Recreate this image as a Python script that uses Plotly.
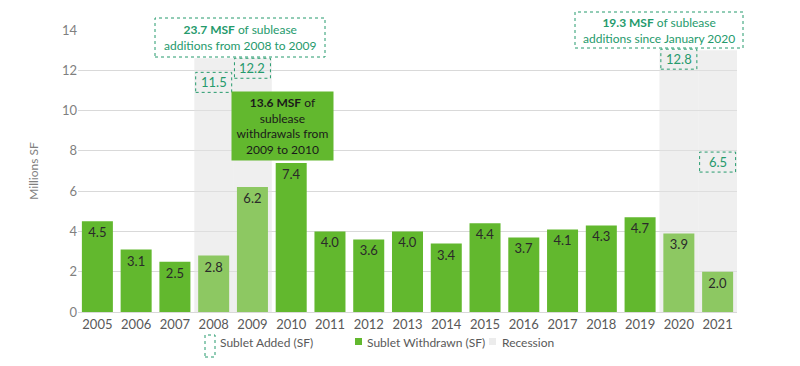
import plotly.graph_objects as go

years = [str(y) for y in range(2005, 2022)]
withdrawn = [4.5, 3.1, 2.5, 2.8, 6.2, 7.4, 4.0, 3.6, 4.0, 3.4, 4.4, 3.7, 4.1, 4.3, 4.7, 3.9, 2.0]
added_years = ["2008", "2009", "2020", "2021"]
added = [11.5, 12.2, 12.8, 6.5]
recession_years = ["2008", "2009", "2020", "2021"]
recession = [12.6, 12.6, 13.0, 13.0]

GREEN = "#62b82e"
LIGHT_GREEN = "#8dc862"
TEAL = "#259a6c"
FONT = "Lato"

bar_colors = [LIGHT_GREEN if y in recession_years else GREEN for y in years]

fig = go.Figure()
fig.add_trace(go.Bar(
    x=recession_years, y=recession, name="Recession", width=1.0,
    marker=dict(color="rgba(225,225,225,0.55)", line=dict(width=0)),
    hoverinfo="skip", showlegend=False,
))
fig.add_trace(go.Bar(
    x=years, y=withdrawn, name="Sublet Withdrawn (SF)", width=0.8,
    marker=dict(color=bar_colors, line=dict(width=0)),
    text=[f"{v:.1f}" for v in withdrawn], textposition="inside",
    insidetextanchor="end", textangle=0,
    textfont=dict(family=FONT, size=13, color="#2a2a2a"),
    showlegend=False,
))
# Sublet Added: shown only as dashed-box data labels
fig.add_trace(go.Bar(
    x=added_years, y=added, name="Sublet Added (SF)", width=0.8,
    marker=dict(color="rgba(0,0,0,0)", line=dict(width=0)),
    hoverinfo="skip", showlegend=False,
))

label_shift = [-2, -2, -5, 19]  # pixel shift of each label box above its value
shapes = []
annotations = []
for yr, v, s in zip(added_years, added, label_shift):
    xi = years.index(yr)
    shapes.append(dict(
        type="rect", xref="x", yref="y", xsizemode="pixel", ysizemode="pixel",
        xanchor=xi, yanchor=v, x0=-18, x1=18, y0=s - 10, y1=s + 10,
        line=dict(color=TEAL, width=1, dash="dot"), fillcolor="rgba(0,0,0,0)",
    ))
    annotations.append(dict(
        x=xi, y=v, xref="x", yref="y", text=f"{v:.1f}", showarrow=False,
        yshift=s, xanchor="center", yanchor="middle",
        font=dict(family=FONT, size=13, color=TEAL),
    ))

def px(x):
    return (x - 78) / 659

def py(y):
    return (312 - y) / 282

# Callout boxes
shapes.append(dict(type="rect", xref="paper", yref="paper",
                   x0=px(155), x1=px(325), y0=py(57), y1=py(18),
                   fillcolor="white",
                   line=dict(color=TEAL, width=1, dash="dot")))
annotations.append(dict(
    x=px(240), y=py(37.5), xref="paper", yref="paper", showarrow=False,
    xanchor="center", yanchor="middle",
    text="<b>23.7 MSF</b> of sublease<br>additions from 2008 to 2009",
    font=dict(family=FONT, size=12, color=TEAL), align="center",
))
shapes.append(dict(type="rect", xref="paper", yref="paper",
                   x0=px(575), x1=px(743), y0=py(48), y1=py(12),
                   fillcolor="white",
                   line=dict(color=TEAL, width=1, dash="dot")))
annotations.append(dict(
    x=px(659), y=py(30), xref="paper", yref="paper", showarrow=False,
    xanchor="center", yanchor="middle",
    text="<b>19.3 MSF</b> of sublease<br>additions since January 2020",
    font=dict(family=FONT, size=12, color=TEAL), align="center",
))
annotations.append(dict(
    x=px(282.5), y=py(126), xref="paper", yref="paper", showarrow=False,
    xanchor="center", yanchor="middle",
    text="<b>13.6 MSF</b> of<br>sublease<br>withdrawals from<br>2009 to 2010",
    font=dict(family=FONT, size=12, color="#1a1a1a"), align="center",
    bgcolor=GREEN, borderpad=4, width=93, height=60,
))

# Manual legend
shapes.append(dict(type="rect", xref="paper", yref="paper",
                   x0=px(205), x1=px(215), y0=py(357), y1=py(335),
                   line=dict(color=TEAL, width=1, dash="dot")))
annotations.append(dict(x=px(218), y=py(342), xref="paper", yref="paper",
                        xanchor="left", yanchor="middle", showarrow=False,
                        text="Sublet Added (SF)",
                        font=dict(family=FONT, size=12, color="#595959")))
shapes.append(dict(type="rect", xref="paper", yref="paper",
                   x0=px(355), x1=px(362), y0=py(345), y1=py(338),
                   line=dict(width=0), fillcolor=GREEN))
annotations.append(dict(x=px(365), y=py(342), xref="paper", yref="paper",
                        xanchor="left", yanchor="middle", showarrow=False,
                        text="Sublet Withdrawn (SF)",
                        font=dict(family=FONT, size=12, color="#595959")))
shapes.append(dict(type="rect", xref="paper", yref="paper",
                   x0=px(489), x1=px(496), y0=py(345), y1=py(338),
                   line=dict(width=0), fillcolor="#ececec"))
annotations.append(dict(x=px(500), y=py(342), xref="paper", yref="paper",
                        xanchor="left", yanchor="middle", showarrow=False,
                        text="Recession",
                        font=dict(family=FONT, size=12, color="#595959")))

fig.update_layout(
    width=800, height=366,
    margin=dict(l=70, r=71, t=22, b=62),
    paper_bgcolor="white", plot_bgcolor="white",
    barmode="overlay", bargap=0.2,
    font=dict(family=FONT, size=12, color="#595959"),
    shapes=shapes, annotations=annotations,
    showlegend=False,
    xaxis=dict(type="category", categoryorder="array", categoryarray=years,
               range=[-0.5, len(years) - 0.5],
               showgrid=False, showline=True, linecolor="#d9d9d9",
               ticks="", tickfont=dict(family=FONT, size=13, color="#595959")),
    yaxis=dict(range=[0, 14], dtick=2, showgrid=True, gridcolor="#d9d9d9",
               zeroline=False, ticks="", automargin=False,
               tickfont=dict(family=FONT, size=13, color="#7f7f7f"),
               title=dict(text="Millions SF", font=dict(family=FONT, size=12, color="#7f7f7f"),
                          standoff=20)),
)

fig.write_html("out.html")
